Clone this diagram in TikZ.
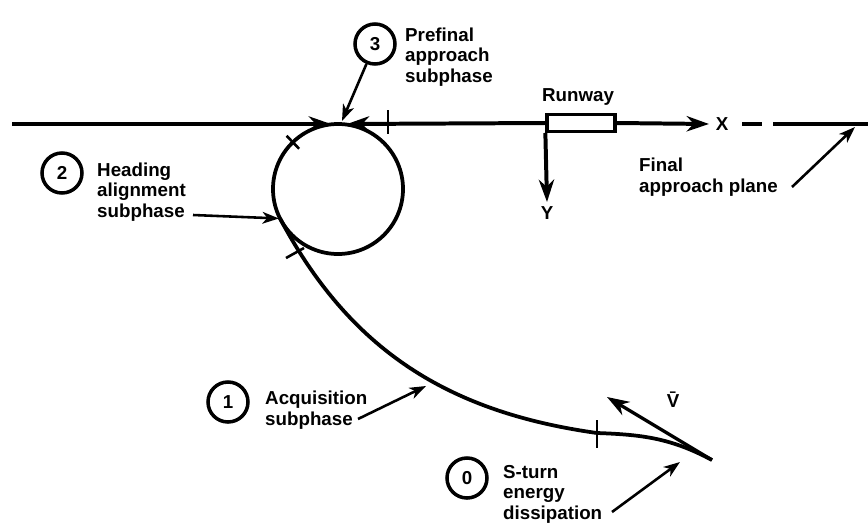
\documentclass[tikz,border=0pt]{standalone}
\usepackage{fontspec}
\setsansfont{Liberation Sans}
\usetikzlibrary{arrows.meta, positioning, calc}

\tikzset{
  traj/.style={line width=3.2pt},
  axisln/.style={line width=3.4pt},
  bigtip/.style={-{Stealth[length=19pt,width=13pt,inset=6pt]}},
  ptr/.style={line width=2.2pt, -{Stealth[length=14pt,width=10pt,inset=4pt]}},
  tickmark/.style={line width=2.2pt},
  numc/.style={draw, circle, line width=3pt, minimum size=1.2cm, inner sep=0pt,
    font=\sffamily\bfseries\fontsize{16}{17}\selectfont},
  lbl/.style={font=\sffamily\bfseries\fontsize{16}{17.5}\selectfont, align=left,
    inner sep=0pt, anchor=west}
}

\begin{document}
\begin{tikzpicture}[x=0.03cm, y=0.03cm]
	\useasboundingbox (0,0) rectangle (868,-524);
	% heading alignment circle and runway
	\node[draw, circle, line width=3.2pt, minimum size=3.9cm, inner sep=0pt] (hac) at (338,-189) {};
	\node[draw, line width=2.8pt, minimum width=2.04cm, minimum height=0.5cm, inner sep=0pt] (rw) at (581,-123) {};
	\node[lbl, anchor=center] (rwl) at (578,-97) {Runway};
	\node[lbl, anchor=center] (xl) at (722,-124) {X};
	\node[lbl, anchor=center] (yl) at (547,-213) {Y};
	% points
	\coordinate (west) at (12,-124);
	\coordinate (ltip) at (331,-124);
	\coordinate (rtip) at (347,-124);
	\coordinate (xtip) at (709,-124);
	\coordinate (ytip) at (547,-202);
	\coordinate (tan) at ($(hac.center)+(207:65)$);
	\coordinate (mid) at (597,-433);
	\coordinate (send) at (712,-460);
	\coordinate (vtip) at (607,-397);
	% x axis / final approach line
	\draw[axisln, bigtip] (west) -- (ltip);
	\draw[axisln, bigtip] (rw.west) -- (rtip);
	\draw[axisln, bigtip] (rw.east) -- (xtip);
	\draw[axisln, bigtip] (rw.south west) -- (ytip);
	\draw[axisln] (742,-124) -- (762,-124);
	\draw[axisln] (773,-124) -- (868,-124);
	% ground track
	\draw[traj] (tan) to[out=-62, in=172] (mid) to[out=-2, in=152] (send);
	\draw[line width=2.8pt, bigtip] (send) -- (vtip);
	\node[lbl, anchor=center] (vl) at (673,-400) {\={V}};
	% phase ticks
	\draw[tickmark] (388,-110) -- (388,-134);
	\draw[tickmark] ($(hac.center)+(134:56)$) -- ($(hac.center)+(134:74)$);
	\draw[tickmark] (286,-258) -- (304,-248);
	\draw[tickmark] (597,-420) -- (597,-448);
	% phase labels
	\node[numc] (n3) at (375,-44) {3};
	\node[lbl] (t3) at (405,-57) {Prefinal\\approach\\subphase};
	\node[numc] (n2) at (62,-173) {2};
	\node[lbl] (t2) at (97,-192) {Heading\\alignment\\subphase};
	\node[numc] (n1) at (228,-402) {1};
	\node[lbl] (t1) at (265,-410) {Acquisition\\subphase};
	\node[numc] (n0) at (467,-478) {0};
	\node[lbl] (t0) at (503,-494) {S-turn\\energy\\dissipation};
	\node[lbl] (tf) at (639,-177) {Final\\approach plane};
	% pointers
	\coordinate (ptop) at (342,-121);
	\coordinate (a2) at (193,-215);
	\coordinate (a1) at (358,-419);
	\coordinate (acq) at (426,-386);
	\coordinate (a0) at (612,-512);
	\coordinate (sp) at (680,-462);
	\coordinate (af) at (792,-187);
	\coordinate (fap) at (855,-127);
	\draw[ptr] (n3) -- (ptop);
	\draw[ptr, shorten >=1pt] (a2) -- (tan);
	\draw[ptr] (a1) -- (acq);
	\draw[ptr] (a0) -- (sp);
	\draw[ptr] (af) -- (fap);
\end{tikzpicture}
\end{document}
